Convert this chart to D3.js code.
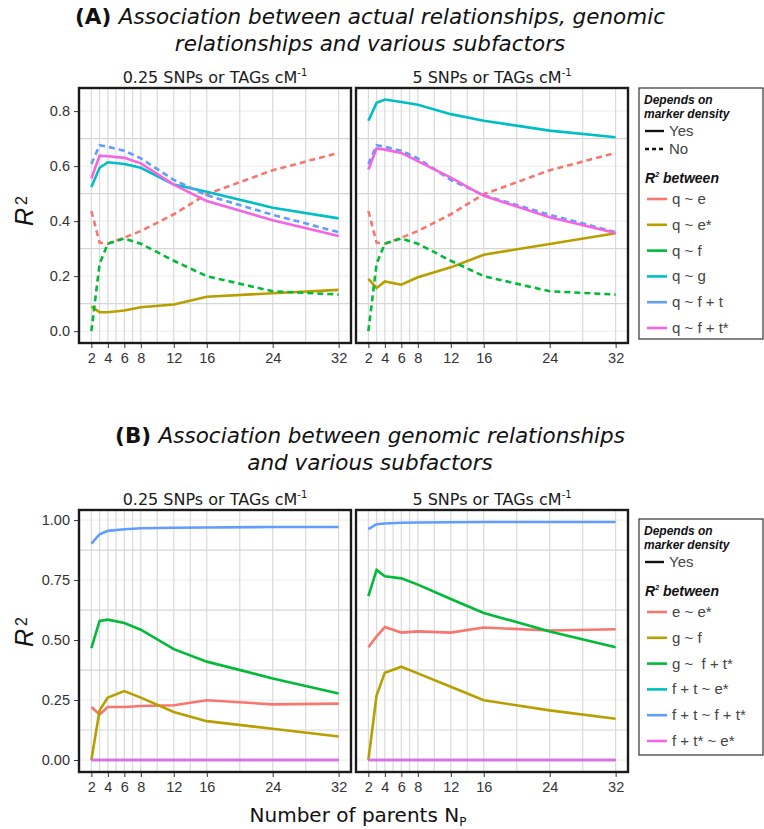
<!DOCTYPE html>
<html>
<head>
<meta charset="utf-8">
<script src="https://cdn.jsdelivr.net/npm/d3@7"></script>
<style>
  body { margin: 0; background: #fff; }
  svg text { font-family: "DejaVu Sans", Verdana, sans-serif; }
  .tick text { font-family: "Liberation Sans", Arial, sans-serif; font-size: 14.5px; fill: #333; }
  .tick line { stroke: #333; }
  .legend-text { font-family: "Liberation Sans", Arial, sans-serif; font-size: 15px; fill: #444; }
</style>
</head>
<body>
<div id="chart"></div>
<script>
var svgWidth = 764;
var svgHeight = 829;

// Number of parents (x values)
var parents = [2, 3, 4, 6, 8, 12, 16, 24, 32];
var xTicks = [2, 4, 6, 8, 12, 16, 24, 32];
var xMinor = [3, 5, 7, 10, 14, 20, 28];

var densityLabels = ["0.25 SNPs or TAGs cM", "5 SNPs or TAGs cM"];

// (A) series that don't depend on marker density (dashed, same in both panels)
var qE = [0.437, 0.322, 0.318, 0.340, 0.364, 0.425, 0.498, 0.585, 0.648];
var qF = [0.000, 0.245, 0.318, 0.337, 0.318, 0.256, 0.200, 0.145, 0.133];
var qFT = [0.608, 0.676, 0.670, 0.656, 0.628, 0.550, 0.494, 0.423, 0.360];

// (A) density dependent, 0.25 cM-1
var qEstarLow = [0.089, 0.069, 0.069, 0.075, 0.087, 0.097, 0.125, 0.138, 0.150];
var qGLow = [0.524, 0.594, 0.614, 0.608, 0.594, 0.533, 0.507, 0.449, 0.410];
var qFTstarLow = [0.555, 0.638, 0.636, 0.630, 0.610, 0.533, 0.473, 0.403, 0.346];
// (A) density dependent, 5 cM-1
var qEstarHigh = [0.190, 0.157, 0.181, 0.169, 0.196, 0.232, 0.278, 0.317, 0.356];
var qGHigh = [0.765, 0.830, 0.842, 0.833, 0.823, 0.789, 0.765, 0.729, 0.705];
var qFTstarHigh = [0.588, 0.664, 0.660, 0.648, 0.618, 0.558, 0.492, 0.414, 0.357];

// (B) 0.25 cM-1
var eEstarLow = [0.221, 0.190, 0.221, 0.221, 0.225, 0.228, 0.249, 0.232, 0.235];
var gFLow = [0.000, 0.207, 0.260, 0.287, 0.260, 0.200, 0.162, 0.130, 0.098];
var gFTstarLow = [0.466, 0.580, 0.585, 0.571, 0.543, 0.462, 0.410, 0.340, 0.277];
var ftEstarLow = [0, 0, 0, 0, 0, 0, 0, 0, 0];
var ftFTstarLow = [0.902, 0.941, 0.955, 0.962, 0.966, 0.968, 0.969, 0.971, 0.971];
var ftstarEstarLow = [0, 0, 0, 0, 0, 0, 0, 0, 0];
// (B) 5 cM-1
var eEstarHigh = [0.470, 0.515, 0.554, 0.531, 0.536, 0.531, 0.552, 0.540, 0.545];
var gFHigh = [0.000, 0.270, 0.364, 0.389, 0.361, 0.305, 0.249, 0.207, 0.172];
var gFTstarHigh = [0.683, 0.792, 0.766, 0.757, 0.731, 0.671, 0.613, 0.536, 0.470];
var ftEstarHigh = [0, 0, 0, 0, 0, 0, 0, 0, 0];
var ftFTstarHigh = [0.962, 0.983, 0.986, 0.989, 0.990, 0.991, 0.992, 0.992, 0.992];
var ftstarEstarHigh = [0, 0, 0, 0, 0, 0, 0, 0, 0];

var colors = ["#F8766D", "#B79F00", "#00BA38", "#00BFC4", "#619CFF", "#F564E3"];
var labelsA = ["q ~ e", "q ~ e*", "q ~ f", "q ~ g", "q ~ f + t", "q ~ f + t*"];
var labelsB = ["e ~ e*", "g ~ f", "g ~  f + t*", "f + t ~ e*", "f + t ~ f + t*", "f + t* ~ e*"];
var dashedA = [true, false, true, false, true, false];
var dashedB = [false, false, false, false, false, false];

var yTicksA = [0, 0.2, 0.4, 0.6, 0.8];
var yMinorA = [0.1, 0.3, 0.5, 0.7];
var yTicksB = [0, 0.25, 0.5, 0.75, 1];
var yMinorB = [0.125, 0.375, 0.625, 0.875];

var panelX = [79, 356];
var panelW = 272;

var svg = d3.select("#chart")
  .append("svg")
  .attr("width", svgWidth)
  .attr("height", svgHeight);

// draw one facet panel
function drawPanel(opts) {
  var x = d3.scaleLinear().domain([0.5, 33.5]).range([opts.left, opts.left + panelW]);
  var y = d3.scaleLinear().domain(opts.yDomain).range([opts.bottom, opts.top]);

  var g = svg.append("g");

  // gridlines
  g.selectAll(null)
    .data(opts.yMajor)
    .enter()
    .append("line")
    .attr("x1", opts.left).attr("x2", opts.left + panelW)
    .attr("y1", d => y(d)).attr("y2", d => y(d))
    .attr("stroke", "#ececec").attr("stroke-width", 1);
  g.selectAll(null)
    .data(opts.yMinor)
    .enter()
    .append("line")
    .attr("x1", opts.left).attr("x2", opts.left + panelW)
    .attr("y1", d => y(d)).attr("y2", d => y(d))
    .attr("stroke", "#d6d6d6").attr("stroke-width", 1.2);
  g.selectAll(null)
    .data(xTicks.concat(xMinor))
    .enter()
    .append("line")
    .attr("x1", d => x(d)).attr("x2", d => x(d))
    .attr("y1", opts.top).attr("y2", opts.bottom)
    .attr("stroke", "#dadada").attr("stroke-width", 1.2);

  // lines
  var line = d3.line()
    .x((d, i) => x(parents[i]))
    .y(d => y(d));

  opts.series.forEach(function(vals, i) {
    g.append("path")
      .datum(vals)
      .attr("d", line)
      .attr("fill", "none")
      .attr("stroke", colors[i])
      .attr("stroke-width", 2.6)
      .attr("stroke-dasharray", opts.dashed[i] ? "6,4" : null);
  });

  // panel border
  g.append("rect")
    .attr("x", opts.left).attr("y", opts.top)
    .attr("width", panelW).attr("height", opts.bottom - opts.top)
    .attr("fill", "none")
    .attr("stroke", "#1a1a1a")
    .attr("stroke-width", 2.4);

  // axes
  var xAxis = g.append("g")
    .attr("transform", `translate(0, ${opts.bottom + 1})`)
    .call(d3.axisBottom(x).tickValues(xTicks).tickSize(4).tickPadding(5));
  xAxis.select(".domain").remove();

  if (opts.showY) {
    var yAxis = g.append("g")
      .attr("transform", `translate(${opts.left - 1}, 0)`)
      .call(d3.axisLeft(y).tickValues(opts.yMajor).tickSize(4).tickPadding(4).tickFormat(opts.fmt));
    yAxis.select(".domain").remove();
  }

  // strip title
  var t = svg.append("text")
    .attr("x", opts.left + panelW / 2)
    .attr("y", opts.top - 5)
    .attr("text-anchor", "middle")
    .attr("font-size", "16px")
    .attr("fill", "#1a1a1a")
    .text(opts.title);
  t.append("tspan")
    .attr("dy", -7)
    .attr("font-size", "10px")
    .text("-1");
}

function drawYLabel(cy) {
  var t = svg.append("text")
    .attr("transform", `translate(33, ${cy}) rotate(-90)`)
    .attr("text-anchor", "middle")
    .style("font-family", "'Liberation Sans', Arial, sans-serif")
    .attr("font-size", "25px")
    .attr("fill", "#111");
  t.append("tspan").attr("font-style", "italic").text("R");
  t.append("tspan").attr("dx", 3).attr("dy", -6).attr("font-size", "16px").text("2");
}

function drawTitle(letter, line1, line2, y) {
  var t1 = svg.append("text")
    .attr("x", 370).attr("y", y)
    .attr("text-anchor", "middle")
    .attr("font-size", "21.5px")
    .attr("fill", "#111");
  t1.append("tspan").attr("font-weight", "bold").text(letter + " ");
  t1.append("tspan").attr("font-style", "italic").text(line1);
  svg.append("text")
    .attr("x", 370).attr("y", y + 27)
    .attr("text-anchor", "middle")
    .attr("font-size", "21.5px")
    .attr("font-style", "italic")
    .attr("fill", "#111")
    .text(line2);
}

function drawLegend(top, height, labels, showNo) {
  var g = svg.append("g");
  g.append("rect")
    .attr("x", 639).attr("y", top)
    .attr("width", 124).attr("height", height)
    .attr("fill", "#fff")
    .attr("stroke", "#333")
    .attr("stroke-width", 1.2);

  var hdr = g.append("text")
    .attr("x", 644).attr("y", top + 16)
    .style("font-family", "'Liberation Sans', Arial, sans-serif")
    .attr("font-size", "12px")
    .attr("font-weight", "bold")
    .attr("font-style", "italic")
    .attr("fill", "#111");
  hdr.append("tspan").attr("x", 644).text("Depends on");
  hdr.append("tspan").attr("x", 644).attr("dy", 14).text("marker density");

  var keys = showNo ? [["Yes", null], ["No", "4,3"]] : [["Yes", null]];
  keys.forEach(function(k, i) {
    var yy = top + 43 + i * 18;
    g.append("line")
      .attr("x1", 645).attr("x2", 664)
      .attr("y1", yy).attr("y2", yy)
      .attr("stroke", "#111").attr("stroke-width", 2.4)
      .attr("stroke-dasharray", k[1]);
    g.append("text")
      .attr("class", "legend-text")
      .attr("x", 669).attr("y", yy + 5)
      .text(k[0]);
  });

  var rTop = top + (showNo ? 95 : 77);
  var rh = g.append("text")
    .attr("x", 645).attr("y", rTop)
    .style("font-family", "'Liberation Sans', Arial, sans-serif")
    .attr("font-size", "14px")
    .attr("font-weight", "bold")
    .attr("font-style", "italic")
    .attr("fill", "#111");
  rh.append("tspan").text("R");
  rh.append("tspan").attr("dy", -6).attr("font-size", "7px").text("2");
  rh.append("tspan").attr("dy", 6).text(" between");

  labels.forEach(function(lab, i) {
    var yy = rTop + 16 + i * 25.8;
    g.append("line")
      .attr("x1", 647).attr("x2", 667)
      .attr("y1", yy).attr("y2", yy)
      .attr("stroke", colors[i]).attr("stroke-width", 2.6);
    g.append("text")
      .attr("class", "legend-text")
      .attr("x", 672).attr("y", yy + 5)
      .style("white-space", "pre")
      .text(lab);
  });
}

// (A)
drawTitle("(A)", "Association between actual relationships, genomic",
  "relationships and various subfactors", 24);
drawPanel({left: panelX[0], top: 88, bottom: 343, yDomain: [-0.043, 0.884],
  yMajor: yTicksA, yMinor: yMinorA, fmt: d3.format(".1f"), showY: true,
  title: densityLabels[0], series: [qE, qEstarLow, qF, qGLow, qFT, qFTstarLow], dashed: dashedA});
drawPanel({left: panelX[1], top: 88, bottom: 343, yDomain: [-0.043, 0.884],
  yMajor: yTicksA, yMinor: yMinorA, fmt: d3.format(".1f"), showY: false,
  title: densityLabels[1], series: [qE, qEstarHigh, qF, qGHigh, qFT, qFTstarHigh], dashed: dashedA});
drawYLabel(211);
drawLegend(88, 251, labelsA, true);

// (B)
drawTitle("(B)", "Association between genomic relationships",
  "and various subfactors", 443);
drawPanel({left: panelX[0], top: 510, bottom: 772, yDomain: [-0.05, 1.042],
  yMajor: yTicksB, yMinor: yMinorB, fmt: d3.format(".2f"), showY: true,
  title: densityLabels[0], series: [eEstarLow, gFLow, gFTstarLow, ftEstarLow, ftFTstarLow, ftstarEstarLow], dashed: dashedB});
drawPanel({left: panelX[1], top: 510, bottom: 772, yDomain: [-0.05, 1.042],
  yMajor: yTicksB, yMinor: yMinorB, fmt: d3.format(".2f"), showY: false,
  title: densityLabels[1], series: [eEstarHigh, gFHigh, gFTstarHigh, ftEstarHigh, ftFTstarHigh, ftstarEstarHigh], dashed: dashedB});
drawYLabel(632);
drawLegend(519, 236, labelsB, false);

// x axis title
var xt = svg.append("text")
  .attr("x", 358).attr("y", 822)
  .attr("text-anchor", "middle")
  .attr("font-size", "20px")
  .attr("fill", "#111")
  .text("Number of parents N");
xt.append("tspan").attr("dy", 4).attr("font-size", "12px").text("P");
</script>
</body>
</html>
